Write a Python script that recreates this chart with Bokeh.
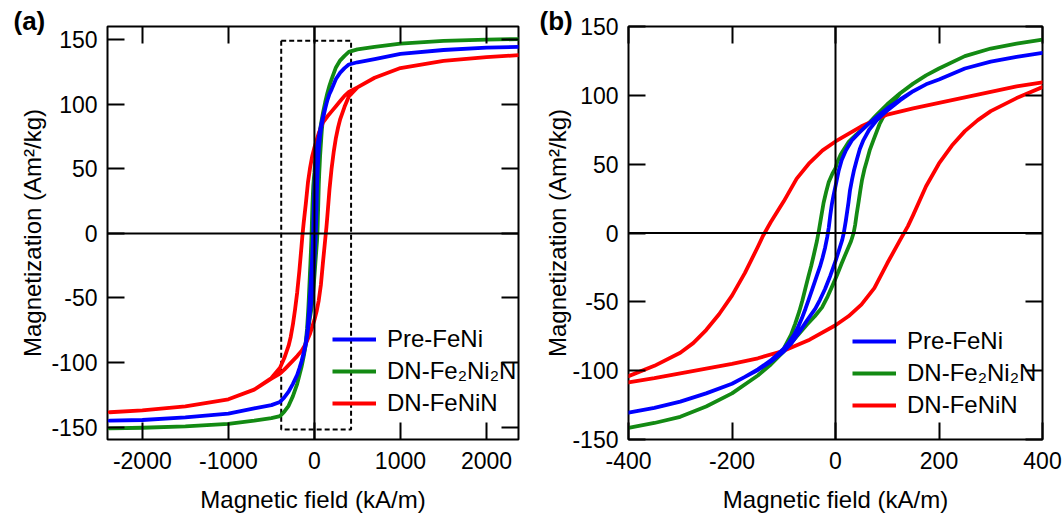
from bokeh.plotting import figure
from bokeh.models import (Range1d, FixedTicker, LinearAxis, Span, Legend, LegendItem, Title,
                          CustomJSTickFormatter)
from bokeh.layouts import row
from bokeh.embed import file_html
from bokeh.resources import INLINE

FONT = "Liberation Sans"

# ---------------- data ----------------
# Pre-FeNi, descending branch (from +H to -H)
blue_desc_h = [2380, 2000, 1500, 1000, 700, 500, 400, 350, 300, 250, 200, 175, 150, 125, 100, 80, 60, 45, 32, 20,
               12, 6, 0, -4, -7, -10, -13, -16, -20, -25, -30, -36, -45, -52, -58, -65, -72, -80, -90, -100,
               -125, -150, -175, -200, -250, -300, -350, -400, -500, -700, -1000, -1500, -2000, -2380]
blue_desc_m = [144.5, 143.8, 142, 139, 135, 132.5, 130.8, 128, 124.5, 119.5, 111.5, 108, 103, 97, 90.5, 84.5, 78, 72.5, 67.5, 60,
               53, 45, 34, 27, 21, 13, 4, -3, -10.5, -18, -24.5, -31, -41, -48.5, -55, -62, -68, -74, -79.5, -84,
               -92.5, -99, -104.5, -109.5, -116.5, -122.5, -127, -130.5, -133, -135.5, -139.5, -142.5, -144.5, -145]
# Pre-FeNi, ascending branch (from -H to +H)
blue_asc_h = [-2380, -2000, -1500, -1000, -700, -500, -400, -350, -300, -250, -200, -175, -150, -125, -100, -85, -70, -55,
              -39, -30, -20, -10, 0, 8, 13, 16, 20, 25, 28, 32, 36, 41, 47, 54, 65, 80, 100, 125, 150, 175, 200,
              250, 300, 350, 400, 500, 700, 1000, 1500, 2000, 2380]
blue_asc_m = [-145, -144.5, -142.5, -139.5, -135.5, -133, -130.5, -127, -122.5, -116.5, -109.5, -104.5, -99.5, -93.5, -86, -80, -72, -63.5,
              -55, -48.5, -40.5, -31, -20.5, -11, -5, 0, 9, 22, 31, 39, 46, 53, 61, 67.5, 75, 82, 89, 96.5, 103, 108, 111.5,
              119.5, 124.5, 128, 130.8, 132.5, 135, 139, 142, 143.8, 144.5]

# DN-Fe2Ni2N
green_desc_h = [2380, 2000, 1500, 1000, 700, 500, 400, 350, 300, 250, 200, 175, 150, 125, 100, 80, 60, 40, 25, 10,
                3, 0, -6, -13, -18, -23, -28, -32, -36, -42, -47, -52, -58, -64, -70, -78, -86, -100, -125, -150,
                -200, -250, -300, -350, -400, -500, -700, -1000, -1500, -2000, -2380]
green_desc_m = [150.5, 150, 149, 147, 144.5, 142.5, 140.5, 137.5, 134, 128.5, 119.5, 114.5, 108.5, 101.5, 93.5, 86, 78, 71.5, 66, 57,
                51, 47, 43, 37, 30, 22, 11, 2, -6, -16, -24, -31, -40, -49, -57, -66, -74, -84, -95, -103.5,
                -116.5, -126, -133.5, -138, -141.5, -143, -145, -147.5, -149.5, -150.5, -151]
green_asc_h = [-2380, -2000, -1500, -1000, -700, -500, -400, -350, -300, -250, -200, -150, -125, -100, -85, -70, -55, -40,
               -26, -15, -5, 3, 12, 22, 30, 35, 38, 41, 45, 48, 51, 56, 61, 66, 73.5, 85, 100, 125, 150, 175, 200,
               250, 300, 350, 400, 500, 700, 1000, 1500, 2000, 2380]
green_asc_m = [-151, -150.5, -149.5, -147.5, -145, -143, -141.5, -138, -133.5, -126, -116.5, -103.5, -95.5, -86, -79.5, -73, -66.5, -60.5,
               -54, -46, -37.5, -30.5, -22, -13, -6, 0, 6, 14, 23.5, 31, 38, 46.5, 53, 60, 67.6, 79, 90, 101.5, 108.5, 114.5, 119.5,
               128.5, 134, 137.5, 140.5, 142.5, 144.5, 147, 149, 150, 150.5]

# DN-FeNiN
red_desc_h = [2380, 2000, 1500, 1000, 700, 500, 400, 350, 300, 250, 200, 150, 100, 50, 25, 0, -25, -50, -75, -100,
              -125, -140, -150, -175, -200, -225, -250, -275, -300, -350, -400, -500, -700, -1000, -1500, -2000, -2380]
red_desc_m = [138, 136.5, 133.5, 128, 120.5, 113, 109.5, 106.5, 102.5, 98.5, 94.5, 90.5, 86, 77.5, 72, 66.5, 60, 51, 39.5, 23,
              8, -2, -10, -29, -45.5, -59, -70.5, -80, -87, -96.5, -104, -112, -121, -128.5, -134, -137, -138.5]
red_asc_h = [-2380, -2000, -1500, -1000, -700, -500, -400, -350, -300, -250, -200, -150, -100, -50, 0, 25, 50, 75, 100,
             125, 140, 150, 175, 200, 225, 250, 275, 300, 350, 400, 500, 700, 1000, 1500, 2000, 2380]
red_asc_m = [-138.5, -137, -134, -128.5, -121, -112.5, -108.5, -105.5, -102, -98.5, -95, -91, -85.5, -77.5, -67, -60.5, -52, -40, -22,
             -5, 5, 13, 34, 50.5, 63.5, 74, 82, 88.5, 98, 106, 113, 120.5, 128, 133.5, 136.5, 138]

series_names = ["Pre-FeNi", "DN-Fe\u2082Ni\u2082N", "DN-FeNiN"]
series_colors = ["#0000ff", "#138a13", "#ff0000"]

# axes / ticks
a_x_ticks = [-2000, -1000, 0, 1000, 2000]
a_y_ticks = [-150, -100, -50, 0, 50, 100, 150]
b_x_ticks = [-400, -200, 0, 200, 400]
b_y_ticks = [-150, -100, -50, 0, 50, 100, 150]
a_x_range = (-2405, 2372)
a_y_range = (-159.6, 160.2)
b_x_range = (-400, 400)
b_y_range = (-150, 150)
# dashed zoom box in panel (a)
box_h = [-386, 426]
box_m = [-151.8, 149.2]

x_title = "Magnetic field (kA/m)"
y_title = "Magnetization (Am\u00b2/kg)"
panel_tags = ["(a)", "(b)"]

loops = [
    (blue_desc_h + blue_asc_h, blue_desc_m + blue_asc_m),
    (green_desc_h + green_asc_h, green_desc_m + green_asc_m),
    (red_desc_h + red_asc_h, red_desc_m + red_asc_m),
]

plain_fmt = "return tick.toString();"
empty_fmt = "return '';"


def style_axis(ax, ticks, show_labels=True):
    ax.ticker = FixedTicker(ticks=ticks)
    ax.axis_line_color = None
    ax.major_tick_in = 17
    ax.major_tick_out = 0
    ax.major_tick_line_width = 2
    ax.major_tick_line_color = "black"
    ax.minor_tick_line_color = None
    ax.major_label_text_font = FONT
    ax.major_label_text_color = "black"
    if show_labels:
        ax.formatter = CustomJSTickFormatter(code=plain_fmt)
        ax.major_label_text_font_size = "23px"
    else:
        ax.formatter = CustomJSTickFormatter(code=empty_fmt)
        ax.major_label_text_font_size = "1px"
        ax.major_label_standoff = 0
    ax.axis_label_text_font = FONT
    ax.axis_label_text_font_size = "24px"
    ax.axis_label_text_font_style = "normal"
    ax.axis_label_text_color = "black"


def make_panel(width, bl, br, bt, bb, xr, yr, xt, yt, tag, tag_offset, legend_xy, y_label_standoff, draw_box):
    p = figure(width=width, height=517, x_range=Range1d(*xr), y_range=Range1d(*yr),
               output_backend="svg", toolbar_location=None,
               min_border_left=bl, min_border_right=br, min_border_top=bt, min_border_bottom=bb)
    p.xgrid.visible = False
    p.ygrid.visible = False
    p.outline_line_color = "black"
    p.outline_line_width = 2
    p.outline_line_alpha = 1
    p.background_fill_color = "white"
    p.border_fill_color = "white"

    style_axis(p.xaxis[0], xt)
    style_axis(p.yaxis[0], yt)
    p.xaxis[0].axis_label = x_title
    p.xaxis[0].major_label_standoff = 12
    p.xaxis[0].axis_label_standoff = 14
    p.yaxis[0].axis_label = y_title
    p.yaxis[0].major_label_standoff = 10
    p.yaxis[0].axis_label_standoff = y_label_standoff

    top = LinearAxis()
    style_axis(top, xt, show_labels=False)
    p.add_layout(top, "above")
    right = LinearAxis()
    style_axis(right, yt, show_labels=False)
    p.add_layout(right, "right")

    tag_title = Title(text=tag, align="left", offset=tag_offset, standoff=-20, vertical_align="middle",
                      text_font=FONT, text_font_size="26px", text_font_style="bold",
                      text_color="black")
    p.add_layout(tag_title, "above")

    p.add_layout(Span(location=0, dimension="height", line_color="black", line_width=2))
    p.add_layout(Span(location=0, dimension="width", line_color="black", line_width=2))

    if draw_box:
        p.quad(left=[box_h[0]], right=[box_h[1]], bottom=[box_m[0]], top=[box_m[1]],
               fill_color=None, line_color="black", line_width=2, line_dash="5 3")

    rends = {}
    for idx in [1, 2, 0]:
        hx, my = loops[idx]
        rends[idx] = p.line(hx, my, line_color=series_colors[idx], line_width=3.8, line_join="round")

    items = [LegendItem(label=series_names[i], renderers=[rends[i]]) for i in range(3)]
    leg = Legend(items=items, location=legend_xy, orientation="vertical",
                 label_text_font=FONT, label_text_font_size="24px", label_text_color="black",
                 glyph_width=44, glyph_height=26, label_height=26, label_standoff=11,
                 spacing=4, padding=0, margin=0, border_line_color=None,
                 background_fill_alpha=0)
    p.add_layout(leg)
    return p


pa = make_panel(531, 107, 13, 25, 76, a_x_range, a_y_range, a_x_ticks, a_y_ticks,
                panel_tags[0], -94, (225, 22), 2, True)
pb = make_panel(531, 97, 20, 26, 78, b_x_range, b_y_range, b_x_ticks, b_y_ticks,
                panel_tags[1], -89, (224, 20), -2, False)

layout = row(pa, pb)
open("out.html", "w").write(file_html(layout, INLINE))
